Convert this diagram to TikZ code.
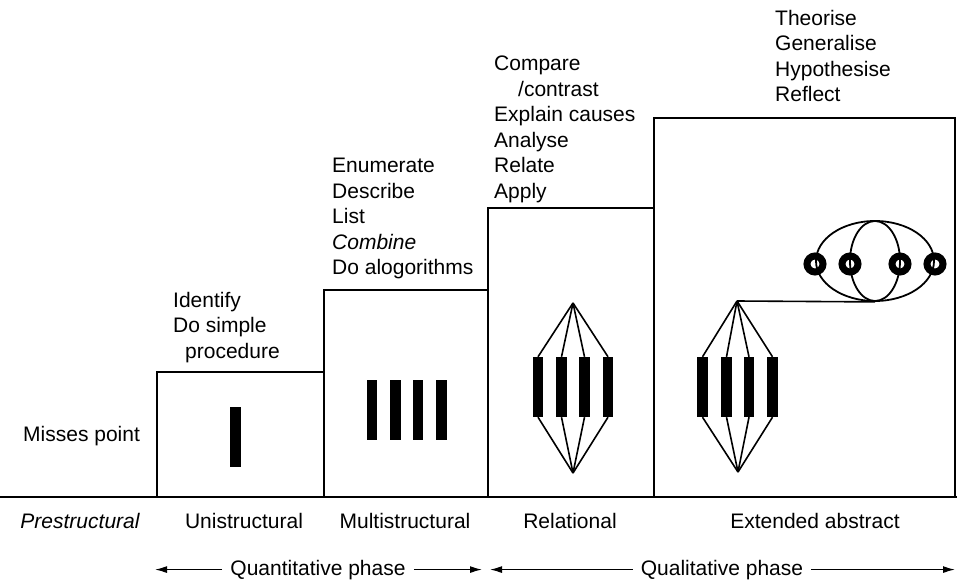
\documentclass[tikz,border=0pt]{standalone}
\usepackage{fontspec}
\setmainfont{Liberation Sans}
\usetikzlibrary{arrows.meta,shapes.geometric}
\begin{document}
\begin{tikzpicture}[x=1bp,y=-1bp,
  lbl/.style={inner sep=0pt, font=\fontsize{21bp}{25.5bp}\selectfont},
  block/.style={lbl, align=left, anchor=north west},
  stepline/.style={draw, line width=2bp},
  bar/.style={fill=black, inner sep=0pt, minimum width=10.5bp, minimum height=60bp},
  link/.style={line width=1.6bp},
  ring/.style={circle, draw, line width=7bp, minimum size=16bp, inner sep=0pt},
  oval/.style={ellipse, draw, line width=1.8bp, inner sep=0pt, minimum height=80bp},
  phase/.style={line width=1.3bp, -{Latex[length=12bp,width=7bp]}}]
\useasboundingbox (0,0) rectangle (957,582);

% ground line and level boxes
\draw[line width=2.5bp] (0,497) -- (957,497);
\draw[stepline] (157,497) rectangle (324,372);
\draw[stepline] (324,497) rectangle (488,290);
\draw[stepline] (488,497) rectangle (654,208);
\draw[stepline] (654,497) rectangle (955,118);

% verbs above each level
\node[block] (mp) at (23,426) {Misses point};
\node[block] (id) at (173,292) {Identify\\Do simple\\\hspace*{12bp}procedure};
\node[block] (en) at (332,158) {Enumerate\\Describe\\List\\\textit{Combine}\\Do alogorithms};
\node[block] (cc) at (494,56) {Compare\\\hspace*{24bp}/contrast\\Explain causes\\Analyse\\Relate\\Apply};
\node[block] (th) at (775,10) {Theorise\\Generalise\\Hypothesise\\Reflect};

% unistructural
\node[bar] (u1) at (235.5,437) {};

% multistructural
\node[bar] (m1) at (372,410) {};
\node[bar] (m2) at (395.5,410) {};
\node[bar] (m3) at (418,410) {};
\node[bar] (m4) at (441.5,410) {};

% relational
\coordinate (rT) at (573,303);
\coordinate (rB) at (573,473);
\node[bar] (r1) at (538,387) {};
\node[bar] (r2) at (561.5,387) {};
\node[bar] (r3) at (584.5,387) {};
\node[bar] (r4) at (608,387) {};
\foreach \i in {1,2,3,4} {
  \draw[link] (rT) -- (r\i.north);
  \draw[link] (rB) -- (r\i.south);
}

% extended abstract
\coordinate (eT) at (737,301);
\coordinate (eB) at (738,472);
\node[bar] (e1) at (702.5,387) {};
\node[bar] (e2) at (726.5,387) {};
\node[bar] (e3) at (749,387) {};
\node[bar] (e4) at (772.5,387) {};
\foreach \i in {1,2,3,4} {
  \draw[link] (eT) -- (e\i.north);
  \draw[link] (eB) -- (e\i.south);
}
\node[ring] (c1) at (815,264) {};
\node[ring] (c2) at (850,264) {};
\node[ring] (c3) at (900,264) {};
\node[ring] (c4) at (935,264) {};
\node[oval, minimum width=118bp] (outer) at (875,261) {};
\node[oval, minimum width=50bp] (inner) at (875,261) {};
\draw[link] (eT) -- (outer.south);

% level names
\node[lbl, anchor=base, font=\fontsize{21bp}{25.5bp}\selectfont\itshape] (pre) at (80,528) {Prestructural};
\node[lbl, anchor=base] (uni) at (244,528) {Unistructural};
\node[lbl, anchor=base] (mul) at (405,528) {Multistructural};
\node[lbl, anchor=base] (rel) at (570,528) {Relational};
\node[lbl, anchor=base] (ext) at (815,528) {Extended abstract};

% phases
\node[lbl, anchor=base] (qt) at (318,575) {Quantitative phase};
\node[lbl, anchor=base] (ql) at (722,575) {Qualitative phase};
\coordinate (qtL) at (155,568);
\coordinate (qtR) at (482,568);
\coordinate (qlL) at (490,568);
\coordinate (qlR) at (955,568);
\draw[phase] ([xshift=-8bp]qt.west) -- (qt.west -| qtL);
\draw[phase] ([xshift=8bp]qt.east) -- (qt.east -| qtR);
\draw[phase] ([xshift=-8bp]ql.west) -- (ql.west -| qlL);
\draw[phase] ([xshift=8bp]ql.east) -- (ql.east -| qlR);
\end{tikzpicture}
\end{document}
